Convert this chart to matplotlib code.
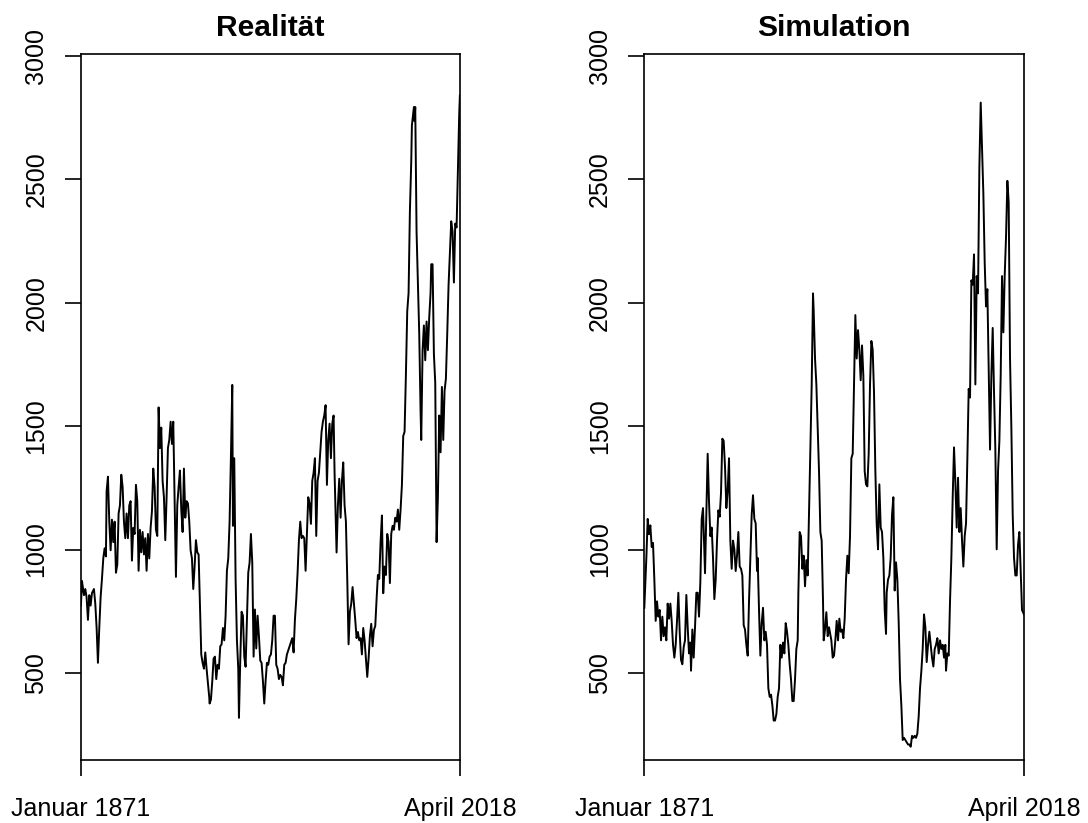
import matplotlib
matplotlib.use("Agg")
import matplotlib.pyplot as plt

plt.rcParams['font.family'] = ['Liberation Sans', 'DejaVu Sans']

titles = ["Realität", "Simulation"]
x_tick_labels = ["Januar 1871", "April 2018"]
y_ticks = [500, 1000, 1500, 2000, 2500, 3000]
start, end = 1871.0, 2018.25

# Realität
real_years = [
    1871.00, 1871.39, 1872.17, 1872.68, 1873.20, 1873.72, 1874.24, 1874.75, 1875.27, 1876.05,
    1876.57, 1877.09, 1877.60, 1878.12, 1878.64, 1879.16, 1879.68, 1880.19, 1880.71, 1880.97,
    1881.49, 1882.01, 1882.53, 1883.04, 1883.56, 1884.08, 1884.60, 1885.12, 1885.63, 1886.15,
    1886.67, 1887.19, 1887.71, 1888.22, 1888.74, 1889.26, 1889.78, 1890.30, 1890.81, 1891.33,
    1891.85, 1892.37, 1892.89, 1893.40, 1893.92, 1894.44, 1894.96, 1895.48, 1895.99, 1896.51,
    1897.03, 1897.55, 1898.07, 1898.58, 1899.10, 1899.62, 1900.14, 1900.66, 1901.18, 1901.69,
    1902.21, 1902.73, 1903.25, 1903.77, 1904.28, 1904.80, 1905.32, 1905.84, 1906.36, 1906.87,
    1907.39, 1907.91, 1908.43, 1908.95, 1909.46, 1909.98, 1910.50, 1911.02, 1911.54, 1912.05,
    1912.57, 1913.09, 1913.61, 1914.13, 1914.64, 1915.16, 1915.68, 1916.20, 1916.72, 1917.23,
    1917.75, 1918.27, 1918.79, 1919.31, 1919.82, 1920.34, 1920.86,
    1920.99, 1921.51, 1922.03, 1922.54, 1923.06, 1923.58, 1924.10, 1924.62, 1925.13, 1925.65,
    1926.17, 1926.69, 1927.21, 1927.72, 1928.24, 1928.76, 1929.28, 1929.80, 1930.06, 1930.57,
    1931.09, 1931.61, 1932.13, 1932.39, 1932.90, 1933.42, 1933.94, 1934.46, 1934.98, 1935.49,
    1936.01, 1936.53, 1937.05, 1937.57, 1938.09, 1938.60, 1939.12, 1939.64, 1940.16, 1940.68,
    1941.19, 1941.71, 1942.23, 1942.75, 1943.27, 1943.78, 1944.30, 1944.82, 1945.34, 1945.86,
    1946.37, 1946.89, 1947.41, 1947.93, 1948.45, 1948.96, 1949.48, 1950.00, 1950.52, 1951.04,
    1951.55, 1952.07, 1952.59, 1953.11, 1953.63, 1954.14, 1954.66, 1955.18, 1955.70, 1956.22,
    1956.73, 1957.25, 1957.77, 1958.29, 1958.81, 1959.32, 1959.84, 1960.36, 1960.88, 1961.40,
    1961.91, 1962.43, 1962.95, 1963.47, 1963.99, 1964.50, 1965.02, 1965.54, 1966.06, 1966.58,
    1967.09, 1967.61, 1968.13, 1968.65, 1969.17,
    1969.55, 1970.33, 1970.85, 1971.37, 1971.89, 1972.40, 1972.92, 1973.44, 1973.96, 1974.48,
    1974.99, 1975.51, 1976.03, 1976.55, 1977.07, 1977.58, 1978.10, 1978.62, 1979.14, 1979.66,
    1980.17, 1980.69, 1981.21, 1981.73, 1982.25, 1982.77, 1983.28, 1983.80, 1984.32, 1984.84,
    1985.36, 1985.87, 1986.39, 1986.91, 1987.43, 1987.95, 1988.46, 1988.98, 1989.50, 1990.02,
    1990.54, 1991.05, 1991.57, 1992.09, 1992.61, 1993.13, 1993.64, 1994.16, 1994.68, 1995.20,
    1995.72, 1996.23, 1996.75, 1997.27, 1997.79, 1998.31, 1998.82, 1999.34, 1999.60, 2000.12,
    2000.38, 2000.64, 2000.90, 2001.41, 2001.93, 2002.45, 2002.97, 2003.23, 2003.75, 2004.26,
    2004.78, 2005.30, 2005.82, 2006.34, 2006.85, 2007.11, 2007.63, 2008.15, 2008.67, 2009.19,
    2009.70, 2010.22, 2010.74, 2011.26, 2011.78, 2012.29, 2012.81, 2013.33, 2013.85, 2014.37,
    2014.88, 2015.40, 2015.92, 2016.44, 2016.96, 2017.47, 2017.99, 2018.25,
]
real_values = [
    773, 873, 815, 840, 806, 715, 815, 773, 823, 840,
    781, 682, 541, 682, 806, 881, 964, 1005, 972, 1237,
    1295, 1113, 997, 1121, 1030, 1113, 906, 939, 1146, 1179,
    1303, 1254, 1113, 1046, 1146, 1046, 1179, 1196, 955, 1088,
    1063, 1262, 1196, 914, 1080, 989, 1071, 980, 1046, 914,
    1063, 964, 1088, 1154, 1328, 1254, 1080, 1055, 1576, 1411,
    1494, 1278, 1212, 1038, 1212, 1411, 1444, 1518, 1428, 1518,
    1196, 889, 1179, 1254, 1320, 1162, 1071, 1328, 1129, 1196,
    1187, 1113, 997, 964, 840, 931, 1038, 989, 980, 773,
    575, 541, 517, 583, 517, 459, 401,
    376, 392, 467, 558, 566, 475, 533, 517, 608, 616,
    682, 632, 732, 914, 964, 1113, 1378, 1667, 1096, 1370,
    881, 632, 517, 318, 550, 748, 732, 566, 525, 715,
    906, 947, 1063, 947, 566, 757, 599, 732, 649, 550,
    541, 467, 376, 467, 541, 533, 566, 575, 632, 732,
    732, 533, 517, 475, 492, 484, 450, 533, 541, 575,
    591, 608, 624, 641, 583, 715, 798, 906, 1038, 1113,
    1046, 1055, 1046, 914, 1063, 1212, 1187, 1104, 1278, 1311,
    1370, 1055, 1278, 1311, 1394, 1477, 1518, 1543, 1585, 1262,
    1444, 1510, 1370, 1510, 1543,
    1311, 988, 1179, 1287, 1129, 1278, 1353, 1179, 1113, 881,
    616, 748, 781, 848, 781, 715, 641, 666, 632, 641,
    575, 682, 632, 558, 484, 558, 649, 699, 608, 674,
    690, 798, 897, 881, 1030, 1138, 823, 931, 897, 1063,
    1030, 864, 1063, 1096, 1080, 1129, 1113, 1162, 1080, 1162,
    1262, 1460, 1477, 1709, 1966, 2040, 2371, 2570, 2719, 2768,
    2793, 2736, 2793, 2288, 2073, 1874, 1560, 1444, 1808, 1908,
    1767, 1924, 1808, 1941, 2040, 2156, 2156, 1792, 1676, 1030,
    1212, 1543, 1394, 1659, 1444, 1643, 1692, 1874, 2073, 2206,
    2330, 2288, 2082, 2321, 2305, 2537, 2768, 2840,
]

# Simulation
sim_years = [
    1871.00, 1871.79, 1872.31, 1872.82, 1873.34, 1873.86, 1874.37, 1874.89, 1875.41, 1875.92,
    1876.44, 1876.96, 1877.48, 1877.99, 1878.51, 1879.03, 1879.54, 1880.06, 1880.58, 1881.10,
    1881.61, 1882.13, 1882.65, 1883.16, 1883.68, 1884.20, 1884.72, 1885.23, 1885.75, 1886.27,
    1886.78, 1887.30, 1887.82, 1888.33, 1888.85, 1889.11, 1889.63, 1890.14, 1890.66, 1891.18,
    1891.70, 1892.21, 1892.73, 1893.25, 1893.76, 1894.28, 1894.54, 1895.06, 1895.57, 1896.09,
    1896.61, 1897.13, 1897.64, 1898.16, 1898.68, 1899.19, 1899.71, 1900.23, 1900.74, 1901.26,
    1901.78, 1902.30, 1902.81, 1903.33, 1903.85, 1904.36, 1904.88, 1905.40, 1905.92, 1906.43,
    1906.95, 1907.47, 1907.98, 1908.50, 1909.02, 1909.54, 1910.05, 1910.57, 1911.09, 1911.60,
    1912.12, 1912.64, 1913.15, 1913.67, 1914.19, 1914.71, 1914.96, 1915.48, 1916.00, 1916.52,
    1917.03, 1917.55, 1918.07, 1918.58, 1919.10, 1919.62, 1920.14, 1920.66, 1921.17, 1921.69,
    1922.21, 1922.72, 1923.24, 1923.76, 1924.27, 1924.79, 1925.31, 1925.83, 1926.34, 1926.86,
    1927.37, 1927.89, 1928.41, 1928.93, 1929.44, 1929.96, 1930.48, 1930.74, 1931.25, 1931.77,
    1932.29, 1932.80, 1933.32, 1933.84, 1934.36, 1934.87, 1935.39, 1935.91, 1936.42, 1936.68,
    1937.20, 1937.72, 1938.23, 1938.75, 1939.27, 1939.78, 1940.30, 1940.56, 1941.08, 1941.59,
    1942.11, 1942.63,
    1943.53, 1944.05, 1944.57, 1945.08, 1945.60, 1946.12, 1946.63, 1947.15, 1947.67, 1948.19,
    1948.70, 1949.22, 1949.74, 1950.25, 1950.77, 1951.29, 1951.81, 1952.32, 1952.84, 1953.36,
    1953.87, 1954.39, 1954.91, 1955.43, 1955.94, 1956.46, 1956.98, 1957.49, 1958.01, 1958.53,
    1959.05, 1959.56, 1960.08, 1960.60, 1961.11, 1961.63, 1962.15, 1962.67, 1963.18, 1963.70,
    1964.22, 1964.73, 1964.99, 1965.51, 1966.03, 1966.54, 1967.06, 1967.58, 1968.09, 1968.61,
    1969.13, 1969.65, 1970.16, 1970.68, 1971.20, 1971.71, 1972.23, 1972.75, 1973.27, 1973.78,
    1974.30, 1974.82, 1975.33, 1975.85, 1976.37, 1976.88, 1977.40, 1977.92, 1978.44, 1978.95,
    1979.47, 1979.99, 1980.50, 1981.02, 1981.54, 1982.06, 1982.57, 1983.09, 1983.61, 1984.12,
    1984.64, 1985.16, 1985.68, 1986.19, 1986.71, 1987.23, 1987.74, 1988.00, 1988.52, 1989.04,
    1989.55, 1990.07, 1990.59, 1991.10, 1991.62, 1992.14, 1992.66, 1993.17, 1993.69, 1994.21,
    1994.72, 1995.24, 1995.76, 1996.28, 1996.79, 1997.31, 1997.83, 1998.34, 1998.86, 1999.38,
    1999.90, 2000.41, 2000.93, 2001.45, 2001.96, 2002.48, 2003.00, 2003.51, 2004.03, 2004.55,
    2005.07, 2005.58, 2006.10, 2006.62, 2007.13, 2007.65, 2008.17, 2008.69, 2009.20, 2009.72,
    2010.24, 2010.75, 2011.27, 2011.79, 2012.30, 2012.82, 2013.34, 2013.86, 2014.37, 2014.89,
    2015.41, 2015.92, 2016.44, 2016.96, 2017.47, 2018.25,
]
sim_values = [
    764, 966, 1124, 1062, 1098, 1010, 1027, 878, 711, 790,
    728, 755, 632, 728, 649, 685, 632, 781, 720, 781,
    711, 614, 562, 614, 711, 825, 667, 553, 535, 605,
    632, 816, 685, 579, 623, 509, 676, 562, 685, 825,
    825, 728, 869, 1124, 1168, 1001, 904, 1141, 1388, 1194,
    1054, 1089, 966, 799, 878, 1036, 1159, 1133, 1229, 1449,
    1440, 1335, 1168, 1238, 1370, 1036, 922, 1036, 1001, 913,
    975, 1071, 931, 922, 895, 693, 676, 614, 570, 790,
    966, 1141, 1220, 1124, 1106, 913, 966, 755, 570, 702,
    764, 632, 667, 614, 438, 403, 412, 368, 307, 307,
    333, 403, 438, 614, 562, 623, 579, 702, 667, 614,
    535, 474, 386, 386, 474, 597, 632, 825, 1071, 1054,
    922, 975, 851, 957, 895, 1141, 1405, 1669, 2038, 1968,
    1774, 1669, 1493, 1317, 1071, 1036, 790, 632, 676, 746,
    649, 685,
    632, 562, 570, 632, 711, 632, 720, 667, 676, 641,
    720, 878, 975, 904, 1054, 1370, 1388, 1669, 1950, 1774,
    1889, 1810, 1686, 1827, 1704, 1317, 1264, 1256, 1388, 1669,
    1845, 1810, 1634, 1317, 1106, 1001, 1264, 1089, 1071, 966,
    755, 658, 825, 878, 895, 966, 1141, 1212, 834, 948,
    878, 702, 474, 368, 228, 237, 228, 219, 210, 210,
    201, 245, 237, 245, 237, 254, 324, 438, 509, 597,
    737, 685, 544, 614, 667, 614, 562, 526, 597, 614,
    641, 579, 632, 597, 614, 562, 614, 509, 579, 570,
    790, 966, 1212, 1414, 1273, 1089, 1291, 1071, 1168, 1036,
    931, 1054, 1106, 1370, 1651, 1616, 2091, 2073, 2196, 1669,
    2108, 2038, 2547, 2811, 2635, 2442, 2161, 1985, 2055, 1739,
    1405, 1704, 1898, 1634, 1405, 1001, 1317, 1440, 1704, 2108,
    1880, 2108, 2266, 2494, 2407, 1774, 1493, 1141, 966, 895,
    895, 1019, 1071, 913, 755, 737,
]

fig = plt.figure(figsize=(10.88, 8.23), dpi=100)
ax1 = fig.add_axes([0.0744, 0.0765, 0.3483, 0.8573])
ax2 = fig.add_axes([0.5922, 0.0765, 0.3490, 0.8573])

for ax, title, yrs, vals in [(ax1, titles[0], real_years, real_values),
                             (ax2, titles[1], sim_years, sim_values)]:
    ax.plot(yrs, vals, color='black', lw=1.4)
    ax.set_xlim(start, end)
    ax.set_ylim(147, 3006)
    ax.set_xticks([start, end])
    ax.set_xticklabels(x_tick_labels)
    ax.set_yticks(y_ticks)
    ax.set_yticklabels([str(v) for v in y_ticks], rotation=90, va='center')
    ax.tick_params(axis='both', length=11.5, width=1.2, labelsize=18, color='black')
    ax.tick_params(axis='y', pad=12)
    ax.tick_params(axis='x', pad=15)
    ax.set_title(title, fontsize=21.6, fontweight='bold', pad=13)
    for s in ax.spines.values():
        s.set_linewidth(1.2)

fig.savefig('out.png', dpi=100)
